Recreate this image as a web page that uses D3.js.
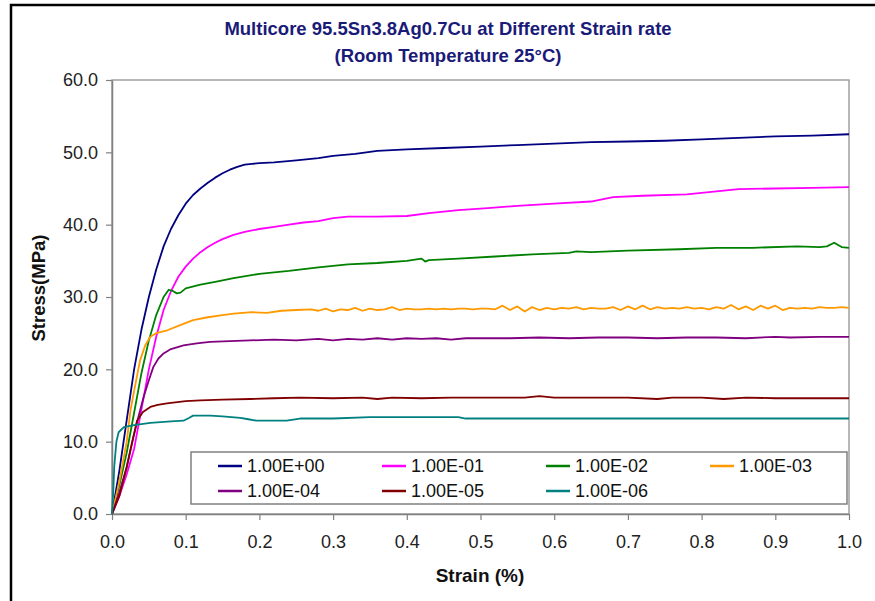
<!DOCTYPE html>
<html>
<head>
<meta charset="utf-8">
<script src="https://cdn.jsdelivr.net/npm/d3@7"></script>
<style>
  html, body { margin: 0; padding: 0; background: #fff; }
  svg { display: block; font-family: "Liberation Sans", Arial, sans-serif; }
</style>
</head>
<body>
<div id="chart"></div>
<script>
// Stress-strain curves: [strain, stress]
const rate1e0 = [[0,0],[0.01,6],[0.02,13],[0.03,20],[0.04,25.5],[0.05,30],[0.06,33.8],[0.07,37],[0.08,39.4],[0.09,41.3],[0.10,42.9],[0.11,44.1],[0.12,45.0],[0.13,45.8],[0.14,46.5],[0.15,47.1],[0.16,47.6],[0.17,48.0],[0.18,48.3],[0.19,48.4],[0.20,48.5],[0.22,48.6],[0.25,48.9],[0.28,49.2],[0.30,49.5],[0.33,49.8],[0.36,50.2],[0.40,50.4],[0.45,50.6],[0.50,50.8],[0.55,51.0],[0.60,51.2],[0.65,51.4],[0.70,51.5],[0.75,51.6],[0.80,51.8],[0.85,52.0],[0.90,52.2],[0.95,52.3],[1.0,52.5]];

const rate1e1 = [[0,0],[0.01,2.5],[0.02,5.5],[0.03,9],[0.04,14.5],[0.05,20],[0.06,24.5],[0.07,28.2],[0.08,30.8],[0.09,32.8],[0.10,34.2],[0.11,35.3],[0.12,36.2],[0.13,36.9],[0.14,37.5],[0.15,38.0],[0.165,38.6],[0.18,39.0],[0.20,39.4],[0.22,39.7],[0.24,40.0],[0.26,40.3],[0.28,40.5],[0.30,40.9],[0.32,41.1],[0.36,41.1],[0.40,41.2],[0.43,41.6],[0.47,42.0],[0.51,42.3],[0.55,42.6],[0.60,42.9],[0.65,43.2],[0.68,43.8],[0.72,44.0],[0.78,44.2],[0.82,44.6],[0.85,44.9],[0.90,45.0],[0.95,45.1],[1.0,45.2]];

const rate1e2 = [[0,0],[0.01,4],[0.02,8.5],[0.03,14],[0.04,19.5],[0.05,24],[0.06,27.5],[0.07,30],[0.077,31],[0.083,30.8],[0.088,30.5],[0.093,30.6],[0.10,31.2],[0.12,31.7],[0.14,32.1],[0.165,32.6],[0.20,33.2],[0.24,33.6],[0.28,34.1],[0.32,34.5],[0.36,34.7],[0.40,35.0],[0.42,35.3],[0.425,34.9],[0.43,35.1],[0.47,35.3],[0.52,35.6],[0.57,35.9],[0.62,36.1],[0.63,36.3],[0.65,36.2],[0.70,36.4],[0.77,36.6],[0.82,36.8],[0.87,36.8],[0.93,37.0],[0.96,36.9],[0.97,37.0],[0.98,37.5],[0.99,36.9],[1.0,36.8]];

const rate1e3 = [[0,0],[0.01,4.5],[0.02,10],[0.025,14.3],[0.03,17],[0.038,21.2],[0.045,23.3],[0.052,24.5],[0.06,25],[0.075,25.4],[0.09,26],[0.11,26.8],[0.13,27.2],[0.15,27.5],[0.165,27.7],[0.19,27.9],[0.21,27.8],[0.23,28.1],[0.25,28.2],[0.27,28.3],
  [0.28,28.1],[0.29,28.4],[0.30,28.0],[0.31,28.3],[0.32,28.2],[0.33,28.5],[0.34,28.1],[0.35,28.4],[0.36,28.2],[0.37,28.3],[0.38,28.6],[0.39,28.2],[0.40,28.4],[0.41,28.3],[0.42,28.3],[0.43,28.4],[0.44,28.3],[0.45,28.4],[0.46,28.3],[0.47,28.4],[0.48,28.4],[0.49,28.3],[0.50,28.4],[0.51,28.4],[0.52,28.3],[0.53,28.8],[0.54,28.2],[0.55,28.7],[0.56,28.0],[0.57,28.6],[0.58,28.2],[0.59,28.5],[0.60,28.3],[0.61,28.5],[0.62,28.4],[0.63,28.6],[0.64,28.3],[0.65,28.5],[0.66,28.4],[0.67,28.4],[0.68,28.6],[0.69,28.2],[0.70,28.7],[0.71,28.3],[0.72,28.8],[0.73,28.3],[0.74,28.6],[0.75,28.4],[0.76,28.5],[0.77,28.4],[0.78,28.6],[0.79,28.4],[0.80,28.5],[0.81,28.3],[0.82,28.6],[0.83,28.4],[0.84,28.9],[0.85,28.3],[0.86,28.7],[0.87,28.2],[0.88,28.8],[0.89,28.4],[0.90,28.8],[0.91,28.2],[0.92,28.5],[0.93,28.4],[0.94,28.5],[0.95,28.4],[0.96,28.6],[0.97,28.5],[0.98,28.5],[0.99,28.6],[1.0,28.5]];

const rate1e4 = [[0,0],[0.01,3],[0.02,6.5],[0.029,10.6],[0.036,13.5],[0.043,16.2],[0.05,18.5],[0.056,20.3],[0.063,21.5],[0.07,22.2],[0.08,22.8],[0.097,23.3],[0.115,23.6],[0.133,23.8],[0.16,23.9],[0.187,24.0],[0.22,24.1],[0.25,24.0],[0.28,24.2],[0.30,24.0],[0.32,24.2],[0.34,24.1],[0.36,24.3],[0.38,24.1],[0.40,24.3],[0.42,24.2],[0.44,24.3],[0.46,24.1],[0.48,24.3],[0.50,24.3],[0.54,24.3],[0.58,24.4],[0.62,24.3],[0.66,24.4],[0.70,24.4],[0.74,24.3],[0.78,24.4],[0.82,24.4],[0.86,24.3],[0.90,24.5],[0.92,24.4],[0.96,24.5],[1.0,24.5]];

const rate1e5 = [[0,0],[0.01,2.5],[0.02,6.5],[0.027,9.8],[0.034,12.9],[0.042,14.1],[0.052,14.8],[0.062,15.1],[0.0745,15.3],[0.10,15.6],[0.12,15.7],[0.15,15.8],[0.187,15.9],[0.22,16.0],[0.255,16.1],[0.30,16.0],[0.34,16.1],[0.36,15.9],[0.38,16.1],[0.42,16.0],[0.46,16.1],[0.50,16.1],[0.56,16.1],[0.58,16.3],[0.60,16.1],[0.70,16.1],[0.74,15.9],[0.76,16.1],[0.80,16.1],[0.83,15.9],[0.86,16.1],[0.90,16.0],[0.95,16.0],[1.0,16.0]];

const rate1e6 = [[0,0],[0.002,3.7],[0.003,6.5],[0.0045,8.3],[0.006,10],[0.009,11.3],[0.016,12.0],[0.03,12.3],[0.052,12.6],[0.08,12.8],[0.097,12.9],[0.105,13.3],[0.11,13.6],[0.133,13.6],[0.15,13.5],[0.174,13.3],[0.185,13.1],[0.196,12.9],[0.237,12.9],[0.255,13.2],[0.28,13.2],[0.30,13.2],[0.35,13.4],[0.47,13.4],[0.48,13.2],[0.6,13.2],[0.8,13.2],[1.0,13.2]];

const seriesNames = ['1.00E+00', '1.00E-01', '1.00E-02', '1.00E-03', '1.00E-04', '1.00E-05', '1.00E-06'];
const seriesData = [rate1e0, rate1e1, rate1e2, rate1e3, rate1e4, rate1e5, rate1e6];
const seriesColors = ['#000080', '#ff00ff', '#008000', '#ff9900', '#800080', '#800000', '#008080'];

const xTicks = [0, 0.1, 0.2, 0.3, 0.4, 0.5, 0.6, 0.7, 0.8, 0.9, 1.0];
const yTicks = [0, 10, 20, 30, 40, 50, 60];

const titleLines = ['Multicore 95.5Sn3.8Ag0.7Cu at Different Strain rate', '(Room Temperature 25\u00B0C)'];

function renderChart() {
    const W = 875, H = 601;
    const plot = { left: 112, right: 849, top: 80, bottom: 514 };

    const svg = d3.select('#chart').append('svg')
        .attr('width', W)
        .attr('height', H);

    // outer chart frame (bottom/right run off the picture)
    svg.append('rect')
        .attr('x', 11).attr('y', 5)
        .attr('width', 900).attr('height', 700)
        .attr('fill', '#fff')
        .attr('stroke', '#000')
        .attr('stroke-width', 2.5);

    const x = d3.scaleLinear().domain([0, 1]).range([plot.left, plot.right]);
    const y = d3.scaleLinear().domain([0, 60]).range([plot.bottom, plot.top]);

    // plot area border
    svg.append('rect')
        .attr('x', plot.left).attr('y', plot.top)
        .attr('width', plot.right - plot.left)
        .attr('height', plot.bottom - plot.top)
        .attr('fill', 'none')
        .attr('stroke', '#a0a0a0')
        .attr('stroke-width', 1.5);

    // titles
    svg.append('g').selectAll('text')
        .data(titleLines)
        .enter().append('text')
        .attr('x', 448)
        .attr('y', (d, i) => 35 + i * 27)
        .attr('text-anchor', 'middle')
        .attr('font-size', 18.5)
        .attr('font-weight', 'bold')
        .attr('fill', '#1a1a78')
        .text(d => d);

    // axes
    const xAxis = svg.append('g')
        .attr('transform', `translate(0,${plot.bottom})`)
        .call(d3.axisBottom(x).tickValues(xTicks).tickFormat(d3.format('.1f')).tickSize(6).tickSizeOuter(0));
    const yAxis = svg.append('g')
        .attr('transform', `translate(${plot.left},0)`)
        .call(d3.axisLeft(y).tickValues(yTicks).tickFormat(d3.format('.1f')).tickSize(6).tickSizeOuter(0));

    [xAxis, yAxis].forEach(ax => {
        ax.select('.domain').attr('stroke', '#808080').attr('stroke-width', 1.5);
        ax.selectAll('.tick line').attr('stroke', '#808080').attr('stroke-width', 1.2);
        ax.selectAll('.tick text')
            .attr('font-family', '"Liberation Sans", Arial, sans-serif')
            .attr('font-size', 18)
            .attr('fill', '#222');
    });
    xAxis.selectAll('.tick text').attr('dy', null).attr('y', 34);
    yAxis.selectAll('.tick text').attr('x', -14);

    // axis titles
    svg.append('text')
        .attr('x', 480).attr('y', 582)
        .attr('text-anchor', 'middle')
        .attr('font-size', 19)
        .attr('font-weight', 'bold')
        .attr('fill', '#111')
        .text('Strain (%)');

    svg.append('text')
        .attr('transform', 'translate(45,288) rotate(-90)')
        .attr('text-anchor', 'middle')
        .attr('font-size', 18.5)
        .attr('font-weight', 'bold')
        .attr('fill', '#111')
        .text('Stress(MPa)');

    // curves
    const line = d3.line()
        .x(d => x(d[0]))
        .y(d => y(d[1]));

    svg.append('g').selectAll('path')
        .data(seriesData)
        .enter().append('path')
        .attr('d', d => line(d))
        .attr('fill', 'none')
        .attr('stroke', (d, i) => seriesColors[i])
        .attr('stroke-width', 1.8)
        .attr('stroke-linejoin', 'round');

    // legend
    const legend = svg.append('g');
    legend.append('rect')
        .attr('x', 191).attr('y', 452)
        .attr('width', 656).attr('height', 52)
        .attr('fill', '#fff')
        .attr('stroke', '#808080')
        .attr('stroke-width', 1.5);

    const colX = [218, 382, 546, 710];
    const rowY = [466, 491];
    const items = legend.selectAll('g.item')
        .data(seriesNames)
        .enter().append('g')
        .attr('class', 'item')
        .attr('transform', (d, i) => `translate(${colX[i % 4]},${rowY[Math.floor(i / 4)]})`);
    items.append('line')
        .attr('x1', 0).attr('x2', 24)
        .attr('stroke', (d, i) => seriesColors[i])
        .attr('stroke-width', 2.5);
    items.append('text')
        .attr('x', 29).attr('y', 6)
        .attr('font-size', 18)
        .attr('fill', '#111')
        .text(d => d);
}

renderChart();
</script>
</body>
</html>
